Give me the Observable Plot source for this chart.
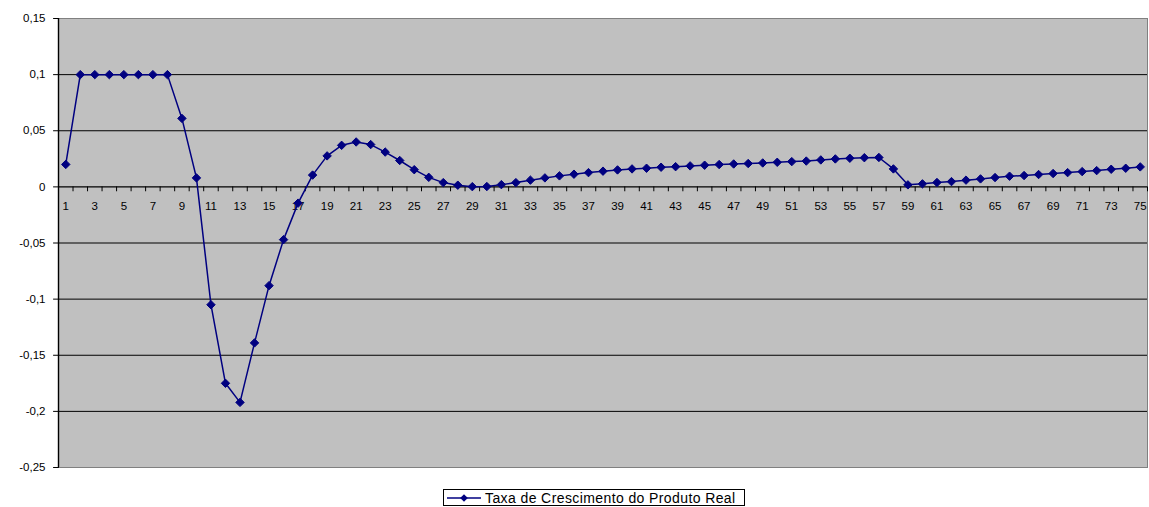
<!DOCTYPE html>
<html>
<head>
<meta charset="utf-8">
<script src="https://cdn.jsdelivr.net/npm/d3@7"></script>
<script src="https://cdn.jsdelivr.net/npm/@observablehq/plot@0.6"></script>
<style>
  html, body { margin: 0; padding: 0; background: #fff; }
  #wrap { position: relative; width: 1149px; height: 507px; font-family: "Liberation Sans", Arial, sans-serif; }
  #legend { position: absolute; left: 443px; top: 489px; width: 302px; height: 17px; border: 1px solid #000; background: #fff;
            display: flex; align-items: center; font-size: 14px; letter-spacing: 0.4px; color: #000; white-space: nowrap; box-sizing: border-box; }
  #legend svg { margin-left: 3px; margin-right: 4px; }
</style>
</head>
<body>
<div id="wrap"></div>
<script>
const seriesName = "Taxa de Crescimento do Produto Real";
const values = [
  0.020, 0.1, 0.1, 0.1, 0.1, 0.1, 0.1, 0.1, 0.061, 0.008,
  -0.105, -0.175, -0.192, -0.139, -0.088, -0.047, -0.0145, 0.0105, 0.0276, 0.037,
  0.040, 0.0377, 0.031, 0.0235, 0.0153, 0.0085, 0.0038, 0.0015, 0.0002, 0.0003,
  0.002, 0.0038, 0.006, 0.008, 0.0098, 0.0113, 0.0127, 0.014, 0.0151, 0.016,
  0.0166, 0.0175, 0.018, 0.0187, 0.0193, 0.0199, 0.0204, 0.0208, 0.0213, 0.0219,
  0.0225, 0.023, 0.024, 0.0249, 0.0255, 0.026, 0.0262, 0.016, 0.0018, 0.0027,
  0.0039, 0.0047, 0.006, 0.0071, 0.0083, 0.0095, 0.0101, 0.011, 0.0119, 0.0127,
  0.0136, 0.0145, 0.0157, 0.0166, 0.0178
];
const categories = values.map((_, i) => i + 1);
const xLabels = categories.filter(c => c % 2 === 1);
const yTicks = [-0.25, -0.2, -0.15, -0.1, -0.05, 0, 0.05, 0.1, 0.15];

const data = categories.map((c, i) => ({cat: c, value: values[i]}));
const bounds = categories.map(c => c + 0.5);
const fmt = v => String(+v.toFixed(2)).replace(".", ",");
const tickShape = { draw(context, l) { context.moveTo(0, 0); context.lineTo(0, -l); } };
const navy = "#000080";

const chart = Plot.plot({
  width: 1149, height: 482,
  marginLeft: 58, marginRight: 2, marginTop: 18, marginBottom: 15,
  style: {fontFamily: "'Liberation Sans', Arial, sans-serif", fontSize: "11px", background: "#fff", color: "#000"},
  x: {domain: [0.5, categories.length + 0.5], axis: null},
  y: {domain: [yTicks[0], yTicks[yTicks.length - 1]], axis: null},
  marks: [
    Plot.frame({fill: "#c0c0c0", stroke: "#808080", strokeWidth: 1}),
    Plot.ruleY(yTicks.filter(v => v !== 0 && v > yTicks[0] && v < yTicks[yTicks.length - 1]), {stroke: "#000", strokeWidth: 1}),
    Plot.ruleY([0], {stroke: "#000", strokeWidth: 1.4}),
    Plot.ruleX([0.5], {stroke: "#000", strokeWidth: 1.4}),
    Plot.vector(yTicks, {x: () => 0.5, y: d => d, length: 5, rotate: -90, anchor: "start", shape: tickShape, stroke: "#000", strokeWidth: 1}),
    Plot.text(yTicks, {x: () => 0.5, y: d => d, text: d => fmt(d), textAnchor: "end", dx: -13, fill: "#000", fontSize: 11.5, letterSpacing: 1.3}),
    Plot.vector(bounds, {x: d => d, y: () => 0, length: 4, rotate: 180, anchor: "start", shape: tickShape, stroke: "#000", strokeWidth: 1}),
    Plot.text(xLabels, {x: d => d, y: () => 0, dy: 19, text: d => String(d), fill: "#000", fontSize: 11.5, letterSpacing: 1}),
    Plot.line(data, {x: "cat", y: "value", stroke: navy, strokeWidth: 1.5}),
    Plot.dot(data, {x: "cat", y: "value", symbol: "diamond2", r: 3.8, fill: navy, stroke: navy, strokeWidth: 1})
  ]
});

const wrap = document.getElementById("wrap");
wrap.appendChild(chart);
const legend = document.createElement("div");
legend.id = "legend";
legend.innerHTML = `<svg width="34" height="10"><line x1="0" y1="5" x2="34" y2="5" stroke="${navy}" stroke-width="1.5"/><path d="M17,1.2L20.8,5L17,8.8L13.2,5Z" fill="${navy}"/></svg><span>${seriesName}</span>`;
wrap.appendChild(legend);
</script>
</body>
</html>
